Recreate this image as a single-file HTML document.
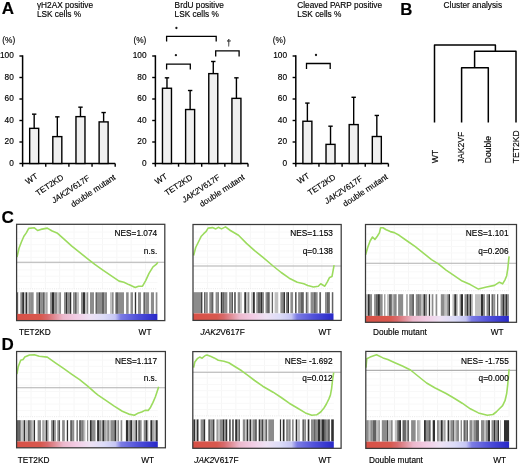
<!DOCTYPE html>
<html><head><meta charset="utf-8"><style>
html,body{margin:0;padding:0;background:#fff;}
body{width:520px;height:464px;overflow:hidden;font-family:"Liberation Sans", sans-serif;}
svg{display:block;filter:blur(0.35px);}
text{stroke:#000;stroke-width:0.14px;}
</style></head><body>
<svg width="520" height="464" viewBox="0 0 520 464" font-family='"Liberation Sans", sans-serif'>
<rect width="520" height="464" fill="#fff"/>
<text x="1.8" y="14.3" font-size="17" font-weight="bold" fill="#000">A</text>
<text transform="translate(36.90 7.90) scale(1 1.13)" font-size="8.3" fill="#000">&#947;H2AX positive</text>
<text transform="translate(36.90 16.90) scale(1 1.13)" font-size="8.3" fill="#000">LSK cells %</text>
<text transform="translate(2.30 42.90) scale(1 1.13)" font-size="8.3" fill="#000">(%)</text>
<line x1="22.6" y1="55.3" x2="22.6" y2="164.2" stroke="#000" stroke-width="1.5"/>
<line x1="19.400000000000002" y1="163.5" x2="22.6" y2="163.5" stroke="#000" stroke-width="1.4"/>
<text transform="translate(13.80 165.70) scale(1 1.13)" font-size="8.3" text-anchor="end" fill="#000">0</text>
<line x1="19.400000000000002" y1="142.0" x2="22.6" y2="142.0" stroke="#000" stroke-width="1.4"/>
<text transform="translate(13.80 144.20) scale(1 1.13)" font-size="8.3" text-anchor="end" fill="#000">20</text>
<line x1="19.400000000000002" y1="120.5" x2="22.6" y2="120.5" stroke="#000" stroke-width="1.4"/>
<text transform="translate(13.80 122.70) scale(1 1.13)" font-size="8.3" text-anchor="end" fill="#000">40</text>
<line x1="19.400000000000002" y1="99.0" x2="22.6" y2="99.0" stroke="#000" stroke-width="1.4"/>
<text transform="translate(13.80 101.20) scale(1 1.13)" font-size="8.3" text-anchor="end" fill="#000">60</text>
<line x1="19.400000000000002" y1="77.5" x2="22.6" y2="77.5" stroke="#000" stroke-width="1.4"/>
<text transform="translate(13.80 79.70) scale(1 1.13)" font-size="8.3" text-anchor="end" fill="#000">80</text>
<line x1="19.400000000000002" y1="56.0" x2="22.6" y2="56.0" stroke="#000" stroke-width="1.4"/>
<text transform="translate(13.80 58.20) scale(1 1.13)" font-size="8.3" text-anchor="end" fill="#000">100</text>
<line x1="21.900000000000002" y1="163.5" x2="115.19999999999999" y2="163.5" stroke="#000" stroke-width="1.5"/>
<line x1="22.6" y1="163.5" x2="22.6" y2="166.7" stroke="#000" stroke-width="1.4"/>
<line x1="45.75" y1="163.5" x2="45.75" y2="166.7" stroke="#000" stroke-width="1.4"/>
<line x1="68.9" y1="163.5" x2="68.9" y2="166.7" stroke="#000" stroke-width="1.4"/>
<line x1="92.04999999999998" y1="163.5" x2="92.04999999999998" y2="166.7" stroke="#000" stroke-width="1.4"/>
<line x1="115.19999999999999" y1="163.5" x2="115.19999999999999" y2="166.7" stroke="#000" stroke-width="1.4"/>
<line x1="34.175" y1="128.3475" x2="34.175" y2="114.1575" stroke="#000" stroke-width="1.4"/>
<line x1="31.974999999999998" y1="114.1575" x2="36.375" y2="114.1575" stroke="#000" stroke-width="1.4"/>
<rect x="29.67" y="128.35" width="9.00" height="35.15" fill="#f0f0f0" stroke="#000" stroke-width="1.4"/>
<line x1="57.324999999999996" y1="136.625" x2="57.324999999999996" y2="116.845" stroke="#000" stroke-width="1.4"/>
<line x1="55.12499999999999" y1="116.845" x2="59.525" y2="116.845" stroke="#000" stroke-width="1.4"/>
<rect x="52.82" y="136.62" width="9.00" height="26.88" fill="#f0f0f0" stroke="#000" stroke-width="1.4"/>
<line x1="80.475" y1="116.63" x2="80.475" y2="107.17" stroke="#000" stroke-width="1.4"/>
<line x1="78.27499999999999" y1="107.17" x2="82.675" y2="107.17" stroke="#000" stroke-width="1.4"/>
<rect x="75.97" y="116.63" width="9.00" height="46.87" fill="#f0f0f0" stroke="#000" stroke-width="1.4"/>
<line x1="103.625" y1="121.89750000000001" x2="103.625" y2="112.545" stroke="#000" stroke-width="1.4"/>
<line x1="101.425" y1="112.545" x2="105.825" y2="112.545" stroke="#000" stroke-width="1.4"/>
<rect x="99.12" y="121.90" width="9.00" height="41.60" fill="#f0f0f0" stroke="#000" stroke-width="1.4"/>
<text class="rl" x="38.40" y="177.60" font-size="8.2" text-anchor="end" fill="#000" transform="rotate(-33.5 38.40 177.60)">WT</text>
<text class="rl" x="64.10" y="178.80" font-size="8.2" text-anchor="end" fill="#000" transform="rotate(-33.5 64.10 178.80)">TET2KD</text>
<text class="rl" x="90.40" y="179.40" font-size="8.2" text-anchor="end" fill="#000" transform="rotate(-33.5 90.40 179.40)"><tspan font-style="italic">JAK2</tspan>V617F</text>
<text class="rl" x="116.20" y="178.80" font-size="8.2" text-anchor="end" fill="#000" transform="rotate(-33.5 116.20 178.80)">double mutant</text>
<text transform="translate(174.60 7.90) scale(1 1.13)" font-size="8.3" fill="#000">BrdU positive</text>
<text transform="translate(174.60 16.90) scale(1 1.13)" font-size="8.3" fill="#000">LSK cells %</text>
<text transform="translate(133.40 42.90) scale(1 1.13)" font-size="8.3" fill="#000">(%)</text>
<line x1="155.4" y1="55.3" x2="155.4" y2="164.2" stroke="#000" stroke-width="1.5"/>
<line x1="152.20000000000002" y1="163.5" x2="155.4" y2="163.5" stroke="#000" stroke-width="1.4"/>
<text transform="translate(146.60 165.70) scale(1 1.13)" font-size="8.3" text-anchor="end" fill="#000">0</text>
<line x1="152.20000000000002" y1="142.0" x2="155.4" y2="142.0" stroke="#000" stroke-width="1.4"/>
<text transform="translate(146.60 144.20) scale(1 1.13)" font-size="8.3" text-anchor="end" fill="#000">20</text>
<line x1="152.20000000000002" y1="120.5" x2="155.4" y2="120.5" stroke="#000" stroke-width="1.4"/>
<text transform="translate(146.60 122.70) scale(1 1.13)" font-size="8.3" text-anchor="end" fill="#000">40</text>
<line x1="152.20000000000002" y1="99.0" x2="155.4" y2="99.0" stroke="#000" stroke-width="1.4"/>
<text transform="translate(146.60 101.20) scale(1 1.13)" font-size="8.3" text-anchor="end" fill="#000">60</text>
<line x1="152.20000000000002" y1="77.5" x2="155.4" y2="77.5" stroke="#000" stroke-width="1.4"/>
<text transform="translate(146.60 79.70) scale(1 1.13)" font-size="8.3" text-anchor="end" fill="#000">80</text>
<line x1="152.20000000000002" y1="56.0" x2="155.4" y2="56.0" stroke="#000" stroke-width="1.4"/>
<text transform="translate(146.60 58.20) scale(1 1.13)" font-size="8.3" text-anchor="end" fill="#000">100</text>
<line x1="154.70000000000002" y1="163.5" x2="248.0" y2="163.5" stroke="#000" stroke-width="1.5"/>
<line x1="155.4" y1="163.5" x2="155.4" y2="166.7" stroke="#000" stroke-width="1.4"/>
<line x1="178.55" y1="163.5" x2="178.55" y2="166.7" stroke="#000" stroke-width="1.4"/>
<line x1="201.7" y1="163.5" x2="201.7" y2="166.7" stroke="#000" stroke-width="1.4"/>
<line x1="224.85" y1="163.5" x2="224.85" y2="166.7" stroke="#000" stroke-width="1.4"/>
<line x1="248.0" y1="163.5" x2="248.0" y2="166.7" stroke="#000" stroke-width="1.4"/>
<line x1="166.975" y1="88.25" x2="166.975" y2="77.8225" stroke="#000" stroke-width="1.4"/>
<line x1="164.775" y1="77.8225" x2="169.17499999999998" y2="77.8225" stroke="#000" stroke-width="1.4"/>
<rect x="162.47" y="88.25" width="9.00" height="75.25" fill="#f0f0f0" stroke="#000" stroke-width="1.4"/>
<line x1="190.125" y1="109.535" x2="190.125" y2="90.5075" stroke="#000" stroke-width="1.4"/>
<line x1="187.925" y1="90.5075" x2="192.325" y2="90.5075" stroke="#000" stroke-width="1.4"/>
<rect x="185.62" y="109.53" width="9.00" height="53.97" fill="#f0f0f0" stroke="#000" stroke-width="1.4"/>
<line x1="213.275" y1="73.63000000000001" x2="213.275" y2="61.4825" stroke="#000" stroke-width="1.4"/>
<line x1="211.07500000000002" y1="61.4825" x2="215.475" y2="61.4825" stroke="#000" stroke-width="1.4"/>
<rect x="208.78" y="73.63" width="9.00" height="89.87" fill="#f0f0f0" stroke="#000" stroke-width="1.4"/>
<line x1="236.425" y1="98.355" x2="236.425" y2="77.8225" stroke="#000" stroke-width="1.4"/>
<line x1="234.22500000000002" y1="77.8225" x2="238.625" y2="77.8225" stroke="#000" stroke-width="1.4"/>
<rect x="231.93" y="98.36" width="9.00" height="65.14" fill="#f0f0f0" stroke="#000" stroke-width="1.4"/>
<text class="rl" x="168.00" y="177.70" font-size="8.2" text-anchor="end" fill="#000" transform="rotate(-33.5 168.00 177.70)">WT</text>
<text class="rl" x="193.10" y="178.70" font-size="8.2" text-anchor="end" fill="#000" transform="rotate(-33.5 193.10 178.70)">TET2KD</text>
<text class="rl" x="220.80" y="178.80" font-size="8.2" text-anchor="end" fill="#000" transform="rotate(-33.5 220.80 178.80)"><tspan font-style="italic">JAK2</tspan>V617F</text>
<text class="rl" x="245.10" y="178.60" font-size="8.2" text-anchor="end" fill="#000" transform="rotate(-33.5 245.10 178.60)">double mutant</text>
<text transform="translate(297.20 7.90) scale(1 1.13)" font-size="8.3" fill="#000">Cleaved PARP positive</text>
<text transform="translate(297.20 16.90) scale(1 1.13)" font-size="8.3" fill="#000">LSK cells %</text>
<text transform="translate(272.80 42.90) scale(1 1.13)" font-size="8.3" fill="#000">(%)</text>
<line x1="295.8" y1="55.3" x2="295.8" y2="164.2" stroke="#000" stroke-width="1.5"/>
<line x1="292.6" y1="163.5" x2="295.8" y2="163.5" stroke="#000" stroke-width="1.4"/>
<text transform="translate(287.00 165.70) scale(1 1.13)" font-size="8.3" text-anchor="end" fill="#000">0</text>
<line x1="292.6" y1="142.0" x2="295.8" y2="142.0" stroke="#000" stroke-width="1.4"/>
<text transform="translate(287.00 144.20) scale(1 1.13)" font-size="8.3" text-anchor="end" fill="#000">20</text>
<line x1="292.6" y1="120.5" x2="295.8" y2="120.5" stroke="#000" stroke-width="1.4"/>
<text transform="translate(287.00 122.70) scale(1 1.13)" font-size="8.3" text-anchor="end" fill="#000">40</text>
<line x1="292.6" y1="99.0" x2="295.8" y2="99.0" stroke="#000" stroke-width="1.4"/>
<text transform="translate(287.00 101.20) scale(1 1.13)" font-size="8.3" text-anchor="end" fill="#000">60</text>
<line x1="292.6" y1="77.5" x2="295.8" y2="77.5" stroke="#000" stroke-width="1.4"/>
<text transform="translate(287.00 79.70) scale(1 1.13)" font-size="8.3" text-anchor="end" fill="#000">80</text>
<line x1="292.6" y1="56.0" x2="295.8" y2="56.0" stroke="#000" stroke-width="1.4"/>
<text transform="translate(287.00 58.20) scale(1 1.13)" font-size="8.3" text-anchor="end" fill="#000">100</text>
<line x1="295.1" y1="163.5" x2="388.4" y2="163.5" stroke="#000" stroke-width="1.5"/>
<line x1="295.8" y1="163.5" x2="295.8" y2="166.7" stroke="#000" stroke-width="1.4"/>
<line x1="318.95" y1="163.5" x2="318.95" y2="166.7" stroke="#000" stroke-width="1.4"/>
<line x1="342.1" y1="163.5" x2="342.1" y2="166.7" stroke="#000" stroke-width="1.4"/>
<line x1="365.25" y1="163.5" x2="365.25" y2="166.7" stroke="#000" stroke-width="1.4"/>
<line x1="388.4" y1="163.5" x2="388.4" y2="166.7" stroke="#000" stroke-width="1.4"/>
<line x1="307.375" y1="121.2525" x2="307.375" y2="103.08500000000001" stroke="#000" stroke-width="1.4"/>
<line x1="305.175" y1="103.08500000000001" x2="309.575" y2="103.08500000000001" stroke="#000" stroke-width="1.4"/>
<rect x="302.88" y="121.25" width="9.00" height="42.25" fill="#f0f0f0" stroke="#000" stroke-width="1.4"/>
<line x1="330.525" y1="144.365" x2="330.525" y2="126.19749999999999" stroke="#000" stroke-width="1.4"/>
<line x1="328.325" y1="126.19749999999999" x2="332.72499999999997" y2="126.19749999999999" stroke="#000" stroke-width="1.4"/>
<rect x="326.02" y="144.37" width="9.00" height="19.13" fill="#f0f0f0" stroke="#000" stroke-width="1.4"/>
<line x1="353.675" y1="124.58500000000001" x2="353.675" y2="97.28" stroke="#000" stroke-width="1.4"/>
<line x1="351.475" y1="97.28" x2="355.875" y2="97.28" stroke="#000" stroke-width="1.4"/>
<rect x="349.18" y="124.59" width="9.00" height="38.91" fill="#f0f0f0" stroke="#000" stroke-width="1.4"/>
<line x1="376.825" y1="136.51749999999998" x2="376.825" y2="115.44749999999999" stroke="#000" stroke-width="1.4"/>
<line x1="374.625" y1="115.44749999999999" x2="379.025" y2="115.44749999999999" stroke="#000" stroke-width="1.4"/>
<rect x="372.32" y="136.52" width="9.00" height="26.98" fill="#f0f0f0" stroke="#000" stroke-width="1.4"/>
<text class="rl" x="310.10" y="177.30" font-size="8.2" text-anchor="end" fill="#000" transform="rotate(-33.5 310.10 177.30)">WT</text>
<text class="rl" x="336.20" y="178.50" font-size="8.2" text-anchor="end" fill="#000" transform="rotate(-33.5 336.20 178.50)">TET2KD</text>
<text class="rl" x="363.30" y="180.10" font-size="8.2" text-anchor="end" fill="#000" transform="rotate(-33.5 363.30 180.10)"><tspan font-style="italic">JAK2</tspan>V617F</text>
<text class="rl" x="388.40" y="178.30" font-size="8.2" text-anchor="end" fill="#000" transform="rotate(-33.5 388.40 178.30)">double mutant</text>
<path d="M166.6 41.6 V36.4 H216.2 V41.6" fill="none" stroke="#000" stroke-width="1.3"/>
<circle cx="176.4" cy="28.0" r="1.15" fill="#1a1a1a"/>
<path d="M166.6 69.4 V64.2 H190.3 V69.4" fill="none" stroke="#000" stroke-width="1.3"/>
<circle cx="175.9" cy="55.2" r="1.15" fill="#1a1a1a"/>
<path d="M215.7 56.5 V50.8 H239.1 V56.5" fill="none" stroke="#000" stroke-width="1.3"/>
<text transform="translate(228.90 46.00) scale(1 1.13)" font-size="8.3" text-anchor="middle" fill="#000">&#8224;</text>
<path d="M306.5 68.9 V63.5 H330.2 V68.9" fill="none" stroke="#000" stroke-width="1.3"/>
<circle cx="316" cy="55.0" r="1.15" fill="#1a1a1a"/>
<text x="400.3" y="14.5" font-size="16.8" font-weight="bold" fill="#000">B</text>
<text transform="translate(443.60 7.60) scale(1 1.13)" font-size="8.3" fill="#000">Cluster analysis</text>
<path d="M434.5 122.6 V45 H495.4 V51.3 M474.6 67.7 V51.3 H516 V122.6 M461.6 122.6 V67.7 H488.3 V122.6" fill="none" stroke="#000" stroke-width="1.5" stroke-linejoin="round"/>
<text transform="translate(437.80 163.2) rotate(-90) scale(1 1.08)" font-size="8.6" fill="#000">WT</text>
<text transform="translate(464.40 163.2) rotate(-90) scale(1 1.08)" font-size="8.6" fill="#000">JAK2VF</text>
<text transform="translate(491.10 163.2) rotate(-90) scale(1 1.08)" font-size="8.6" fill="#000">Double</text>
<text transform="translate(518.70 163.2) rotate(-90) scale(1 1.08)" font-size="8.6" fill="#000">TET2KD</text>
<text x="1.6" y="222.9" font-size="17.2" font-weight="bold" fill="#000">C</text>
<text x="1.4" y="349.9" font-size="17" font-weight="bold" fill="#000">D</text>
<defs><linearGradient id="g1" x1="0" x2="1" y1="0" y2="0"><stop offset="0" stop-color="#d85046"/><stop offset="0.17" stop-color="#d8584e"/><stop offset="0.22" stop-color="#d86a6c"/><stop offset="0.28" stop-color="#e2949e"/><stop offset="0.33" stop-color="#ecb8cc"/><stop offset="0.42" stop-color="#f2cce4"/><stop offset="0.52" stop-color="#eee2f4"/><stop offset="0.62" stop-color="#dcdcf8"/><stop offset="0.70" stop-color="#c6c6f4"/><stop offset="0.74" stop-color="#7c7ce4"/><stop offset="0.86" stop-color="#5050da"/><stop offset="1" stop-color="#2828c8"/></linearGradient></defs>
<line x1="31.1" y1="224.3" x2="31.1" y2="288.8" stroke="#f6f6f6" stroke-width="1"/>
<line x1="45.4" y1="224.3" x2="45.4" y2="288.8" stroke="#f6f6f6" stroke-width="1"/>
<line x1="59.7" y1="224.3" x2="59.7" y2="288.8" stroke="#f6f6f6" stroke-width="1"/>
<line x1="74.0" y1="224.3" x2="74.0" y2="288.8" stroke="#f6f6f6" stroke-width="1"/>
<line x1="88.3" y1="224.3" x2="88.3" y2="288.8" stroke="#f6f6f6" stroke-width="1"/>
<line x1="102.6" y1="224.3" x2="102.6" y2="288.8" stroke="#f6f6f6" stroke-width="1"/>
<line x1="116.9" y1="224.3" x2="116.9" y2="288.8" stroke="#f6f6f6" stroke-width="1"/>
<line x1="131.2" y1="224.3" x2="131.2" y2="288.8" stroke="#f6f6f6" stroke-width="1"/>
<line x1="145.5" y1="224.3" x2="145.5" y2="288.8" stroke="#f6f6f6" stroke-width="1"/>
<line x1="16.6" y1="282.5" x2="157.4" y2="282.5" stroke="#f8f8f8" stroke-width="1"/>
<line x1="16.6" y1="276.2" x2="157.4" y2="276.2" stroke="#f8f8f8" stroke-width="1"/>
<line x1="16.6" y1="269.9" x2="157.4" y2="269.9" stroke="#f8f8f8" stroke-width="1"/>
<line x1="16.6" y1="263.6" x2="157.4" y2="263.6" stroke="#f8f8f8" stroke-width="1"/>
<line x1="16.6" y1="257.3" x2="157.4" y2="257.3" stroke="#f8f8f8" stroke-width="1"/>
<line x1="16.6" y1="251.0" x2="157.4" y2="251.0" stroke="#f8f8f8" stroke-width="1"/>
<line x1="16.6" y1="244.7" x2="157.4" y2="244.7" stroke="#f8f8f8" stroke-width="1"/>
<line x1="16.6" y1="238.4" x2="157.4" y2="238.4" stroke="#f8f8f8" stroke-width="1"/>
<line x1="16.6" y1="232.1" x2="157.4" y2="232.1" stroke="#f8f8f8" stroke-width="1"/>
<line x1="16.6" y1="288.8" x2="157.4" y2="288.8" stroke="#e2e2e2" stroke-width="0.8" stroke-dasharray="1 1.2"/>
<line x1="16.6" y1="262.3" x2="164.8" y2="262.3" stroke="#b0b0b0" stroke-width="1.1"/>
<rect x="16.6" y="292.3" width="140.8" height="21.599999999999966" fill="#fff"/>
<rect x="17.00" y="292.3" width="1.40" height="21.599999999999966" fill="rgb(98,98,98)"/>
<rect x="18.40" y="292.3" width="1.90" height="21.599999999999966" fill="rgb(255,255,255)"/>
<rect x="20.30" y="292.3" width="1.90" height="21.599999999999966" fill="rgb(140,140,140)"/>
<rect x="22.20" y="292.3" width="1.90" height="21.599999999999966" fill="rgb(48,48,48)"/>
<rect x="24.10" y="292.3" width="1.50" height="21.599999999999966" fill="rgb(192,192,192)"/>
<rect x="25.60" y="292.3" width="1.40" height="21.599999999999966" fill="rgb(48,48,48)"/>
<rect x="27.00" y="292.3" width="2.00" height="21.599999999999966" fill="rgb(192,192,192)"/>
<rect x="29.00" y="292.3" width="1.90" height="21.599999999999966" fill="rgb(140,140,140)"/>
<rect x="30.90" y="292.3" width="2.90" height="21.599999999999966" fill="rgb(140,140,140)"/>
<rect x="33.80" y="292.3" width="2.40" height="21.599999999999966" fill="rgb(255,255,255)"/>
<rect x="36.20" y="292.3" width="2.80" height="21.599999999999966" fill="rgb(140,140,140)"/>
<rect x="39.00" y="292.3" width="1.50" height="21.599999999999966" fill="rgb(48,48,48)"/>
<rect x="40.50" y="292.3" width="2.40" height="21.599999999999966" fill="rgb(140,140,140)"/>
<rect x="42.90" y="292.3" width="1.90" height="21.599999999999966" fill="rgb(98,98,98)"/>
<rect x="44.80" y="292.3" width="1.50" height="21.599999999999966" fill="rgb(192,192,192)"/>
<rect x="46.30" y="292.3" width="1.40" height="21.599999999999966" fill="rgb(140,140,140)"/>
<rect x="47.70" y="292.3" width="2.40" height="21.599999999999966" fill="rgb(255,255,255)"/>
<rect x="50.10" y="292.3" width="1.90" height="21.599999999999966" fill="rgb(140,140,140)"/>
<rect x="52.00" y="292.3" width="2.40" height="21.599999999999966" fill="rgb(48,48,48)"/>
<rect x="54.40" y="292.3" width="2.90" height="21.599999999999966" fill="rgb(140,140,140)"/>
<rect x="57.30" y="292.3" width="1.90" height="21.599999999999966" fill="rgb(192,192,192)"/>
<rect x="59.20" y="292.3" width="2.00" height="21.599999999999966" fill="rgb(140,140,140)"/>
<rect x="61.20" y="292.3" width="2.80" height="21.599999999999966" fill="rgb(255,255,255)"/>
<rect x="64.00" y="292.3" width="2.00" height="21.599999999999966" fill="rgb(140,140,140)"/>
<rect x="66.00" y="292.3" width="1.50" height="21.599999999999966" fill="rgb(48,48,48)"/>
<rect x="67.50" y="292.3" width="2.50" height="21.599999999999966" fill="rgb(140,140,140)"/>
<rect x="70.00" y="292.3" width="1.50" height="21.599999999999966" fill="rgb(48,48,48)"/>
<rect x="71.50" y="292.3" width="1.50" height="21.599999999999966" fill="rgb(255,255,255)"/>
<rect x="73.00" y="292.3" width="1.50" height="21.599999999999966" fill="rgb(140,140,140)"/>
<rect x="74.50" y="292.3" width="1.50" height="21.599999999999966" fill="rgb(98,98,98)"/>
<rect x="76.00" y="292.3" width="1.50" height="21.599999999999966" fill="rgb(140,140,140)"/>
<rect x="77.50" y="292.3" width="1.50" height="21.599999999999966" fill="rgb(192,192,192)"/>
<rect x="79.00" y="292.3" width="2.00" height="21.599999999999966" fill="rgb(255,255,255)"/>
<rect x="81.00" y="292.3" width="2.00" height="21.599999999999966" fill="rgb(140,140,140)"/>
<rect x="83.00" y="292.3" width="2.00" height="21.599999999999966" fill="rgb(48,48,48)"/>
<rect x="85.00" y="292.3" width="2.00" height="21.599999999999966" fill="rgb(192,192,192)"/>
<rect x="87.00" y="292.3" width="1.50" height="21.599999999999966" fill="rgb(140,140,140)"/>
<rect x="88.50" y="292.3" width="1.50" height="21.599999999999966" fill="rgb(255,255,255)"/>
<rect x="90.00" y="292.3" width="4.00" height="21.599999999999966" fill="rgb(140,140,140)"/>
<rect x="94.00" y="292.3" width="1.50" height="21.599999999999966" fill="rgb(255,255,255)"/>
<rect x="95.50" y="292.3" width="1.50" height="21.599999999999966" fill="rgb(98,98,98)"/>
<rect x="97.00" y="292.3" width="5.00" height="21.599999999999966" fill="rgb(140,140,140)"/>
<rect x="102.00" y="292.3" width="2.50" height="21.599999999999966" fill="rgb(98,98,98)"/>
<rect x="104.50" y="292.3" width="2.50" height="21.599999999999966" fill="rgb(140,140,140)"/>
<rect x="107.00" y="292.3" width="3.00" height="21.599999999999966" fill="rgb(255,255,255)"/>
<rect x="110.00" y="292.3" width="2.00" height="21.599999999999966" fill="rgb(192,192,192)"/>
<rect x="112.00" y="292.3" width="1.80" height="21.599999999999966" fill="rgb(140,140,140)"/>
<rect x="113.80" y="292.3" width="1.60" height="21.599999999999966" fill="rgb(255,255,255)"/>
<rect x="115.40" y="292.3" width="2.60" height="21.599999999999966" fill="rgb(98,98,98)"/>
<rect x="118.00" y="292.3" width="6.00" height="21.599999999999966" fill="rgb(140,140,140)"/>
<rect x="124.00" y="292.3" width="2.10" height="21.599999999999966" fill="rgb(255,255,255)"/>
<rect x="126.10" y="292.3" width="2.70" height="21.599999999999966" fill="rgb(140,140,140)"/>
<rect x="128.80" y="292.3" width="1.70" height="21.599999999999966" fill="rgb(255,255,255)"/>
<rect x="130.50" y="292.3" width="2.60" height="21.599999999999966" fill="rgb(140,140,140)"/>
<rect x="133.10" y="292.3" width="1.70" height="21.599999999999966" fill="rgb(255,255,255)"/>
<rect x="134.80" y="292.3" width="1.60" height="21.599999999999966" fill="rgb(48,48,48)"/>
<rect x="136.40" y="292.3" width="1.60" height="21.599999999999966" fill="rgb(255,255,255)"/>
<rect x="138.00" y="292.3" width="3.20" height="21.599999999999966" fill="rgb(140,140,140)"/>
<rect x="141.20" y="292.3" width="2.20" height="21.599999999999966" fill="rgb(255,255,255)"/>
<rect x="143.40" y="292.3" width="2.10" height="21.599999999999966" fill="rgb(98,98,98)"/>
<rect x="145.50" y="292.3" width="3.80" height="21.599999999999966" fill="rgb(140,140,140)"/>
<rect x="149.30" y="292.3" width="1.60" height="21.599999999999966" fill="rgb(255,255,255)"/>
<rect x="150.90" y="292.3" width="3.20" height="21.599999999999966" fill="rgb(140,140,140)"/>
<rect x="154.10" y="292.3" width="1.60" height="21.599999999999966" fill="rgb(255,255,255)"/>
<rect x="155.70" y="292.3" width="1.70" height="21.599999999999966" fill="rgb(140,140,140)"/>
<rect x="16.6" y="313.9" width="140.8" height="6.7000000000000455" fill="url(#g1)"/>
<polyline points="17.0,257.0 19.0,248.3 21.5,241.8 23.9,236.2 26.3,232.9 28.7,228.4 34.4,227.8 37.6,230.5 40.8,229.4 47.3,228.1 52.2,231.0 57.0,232.9 63.5,238.6 71.5,245.8 79.6,252.3 87.7,258.8 94.8,264.4 102.9,270.1 111.0,275.7 119.1,281.1 123.9,282.2 128.8,284.6 135.2,287.5 138.5,286.2 142.5,286.2 145.7,280.6 149.0,273.3 153.0,266.8 156.2,264.4 157.9,262.3" fill="none" stroke="#9cdb5e" stroke-width="1.6" stroke-linejoin="round"/>
<rect x="16.6" y="224.3" width="148.20000000000002" height="96.30000000000001" fill="none" stroke="#3a3a3a" stroke-width="1.25"/>
<text transform="translate(157.20 235.80) scale(1 1.13)" font-size="8.3" text-anchor="end" fill="#000">NES=1.074</text>
<text transform="translate(157.20 253.90) scale(1 1.13)" font-size="8.3" text-anchor="end" fill="#000">n.s.</text>
<text transform="translate(19.00 334.50) scale(1 1.13)" font-size="8.3" fill="#000">TET2KD</text>
<text transform="translate(138.60 334.50) scale(1 1.13)" font-size="8.3" fill="#000">WT</text>
<defs><linearGradient id="g2" x1="0" x2="1" y1="0" y2="0"><stop offset="0" stop-color="#d85046"/><stop offset="0.17" stop-color="#d8584e"/><stop offset="0.22" stop-color="#d86a6c"/><stop offset="0.28" stop-color="#e2949e"/><stop offset="0.33" stop-color="#ecb8cc"/><stop offset="0.42" stop-color="#f2cce4"/><stop offset="0.52" stop-color="#eee2f4"/><stop offset="0.62" stop-color="#dcdcf8"/><stop offset="0.70" stop-color="#c6c6f4"/><stop offset="0.74" stop-color="#7c7ce4"/><stop offset="0.86" stop-color="#5050da"/><stop offset="1" stop-color="#2828c8"/></linearGradient></defs>
<line x1="207.5" y1="224.5" x2="207.5" y2="288.7" stroke="#f6f6f6" stroke-width="1"/>
<line x1="221.8" y1="224.5" x2="221.8" y2="288.7" stroke="#f6f6f6" stroke-width="1"/>
<line x1="236.1" y1="224.5" x2="236.1" y2="288.7" stroke="#f6f6f6" stroke-width="1"/>
<line x1="250.4" y1="224.5" x2="250.4" y2="288.7" stroke="#f6f6f6" stroke-width="1"/>
<line x1="264.7" y1="224.5" x2="264.7" y2="288.7" stroke="#f6f6f6" stroke-width="1"/>
<line x1="279.0" y1="224.5" x2="279.0" y2="288.7" stroke="#f6f6f6" stroke-width="1"/>
<line x1="293.3" y1="224.5" x2="293.3" y2="288.7" stroke="#f6f6f6" stroke-width="1"/>
<line x1="307.6" y1="224.5" x2="307.6" y2="288.7" stroke="#f6f6f6" stroke-width="1"/>
<line x1="321.9" y1="224.5" x2="321.9" y2="288.7" stroke="#f6f6f6" stroke-width="1"/>
<line x1="193.0" y1="282.4" x2="333.5" y2="282.4" stroke="#f8f8f8" stroke-width="1"/>
<line x1="193.0" y1="276.1" x2="333.5" y2="276.1" stroke="#f8f8f8" stroke-width="1"/>
<line x1="193.0" y1="269.8" x2="333.5" y2="269.8" stroke="#f8f8f8" stroke-width="1"/>
<line x1="193.0" y1="263.5" x2="333.5" y2="263.5" stroke="#f8f8f8" stroke-width="1"/>
<line x1="193.0" y1="257.2" x2="333.5" y2="257.2" stroke="#f8f8f8" stroke-width="1"/>
<line x1="193.0" y1="250.9" x2="333.5" y2="250.9" stroke="#f8f8f8" stroke-width="1"/>
<line x1="193.0" y1="244.6" x2="333.5" y2="244.6" stroke="#f8f8f8" stroke-width="1"/>
<line x1="193.0" y1="238.3" x2="333.5" y2="238.3" stroke="#f8f8f8" stroke-width="1"/>
<line x1="193.0" y1="232.0" x2="333.5" y2="232.0" stroke="#f8f8f8" stroke-width="1"/>
<line x1="193.0" y1="288.7" x2="333.5" y2="288.7" stroke="#e2e2e2" stroke-width="0.8" stroke-dasharray="1 1.2"/>
<line x1="193.0" y1="266.0" x2="341.2" y2="266.0" stroke="#b0b0b0" stroke-width="1.1"/>
<rect x="193.0" y="292.2" width="140.5" height="21.19999999999999" fill="#fff"/>
<rect x="193.60" y="292.2" width="3.40" height="21.19999999999999" fill="rgb(140,140,140)"/>
<rect x="197.00" y="292.2" width="4.10" height="21.19999999999999" fill="rgb(140,140,140)"/>
<rect x="201.10" y="292.2" width="1.50" height="21.19999999999999" fill="rgb(48,48,48)"/>
<rect x="202.60" y="292.2" width="1.40" height="21.19999999999999" fill="rgb(255,255,255)"/>
<rect x="204.00" y="292.2" width="1.50" height="21.19999999999999" fill="rgb(98,98,98)"/>
<rect x="205.50" y="292.2" width="2.40" height="21.19999999999999" fill="rgb(140,140,140)"/>
<rect x="207.90" y="292.2" width="1.40" height="21.19999999999999" fill="rgb(255,255,255)"/>
<rect x="209.30" y="292.2" width="1.90" height="21.19999999999999" fill="rgb(140,140,140)"/>
<rect x="211.20" y="292.2" width="2.40" height="21.19999999999999" fill="rgb(98,98,98)"/>
<rect x="213.60" y="292.2" width="2.00" height="21.19999999999999" fill="rgb(255,255,255)"/>
<rect x="215.60" y="292.2" width="1.90" height="21.19999999999999" fill="rgb(140,140,140)"/>
<rect x="217.50" y="292.2" width="1.40" height="21.19999999999999" fill="rgb(98,98,98)"/>
<rect x="218.90" y="292.2" width="1.90" height="21.19999999999999" fill="rgb(255,255,255)"/>
<rect x="220.80" y="292.2" width="1.50" height="21.19999999999999" fill="rgb(48,48,48)"/>
<rect x="222.30" y="292.2" width="2.40" height="21.19999999999999" fill="rgb(98,98,98)"/>
<rect x="224.70" y="292.2" width="2.90" height="21.19999999999999" fill="rgb(140,140,140)"/>
<rect x="227.60" y="292.2" width="1.40" height="21.19999999999999" fill="rgb(255,255,255)"/>
<rect x="229.00" y="292.2" width="2.90" height="21.19999999999999" fill="rgb(140,140,140)"/>
<rect x="231.90" y="292.2" width="1.00" height="21.19999999999999" fill="rgb(48,48,48)"/>
<rect x="232.90" y="292.2" width="1.40" height="21.19999999999999" fill="rgb(255,255,255)"/>
<rect x="234.30" y="292.2" width="1.50" height="21.19999999999999" fill="rgb(48,48,48)"/>
<rect x="235.80" y="292.2" width="1.90" height="21.19999999999999" fill="rgb(255,255,255)"/>
<rect x="237.70" y="292.2" width="2.40" height="21.19999999999999" fill="rgb(140,140,140)"/>
<rect x="240.10" y="292.2" width="1.80" height="21.19999999999999" fill="rgb(192,192,192)"/>
<rect x="241.90" y="292.2" width="2.40" height="21.19999999999999" fill="rgb(255,255,255)"/>
<rect x="244.30" y="292.2" width="2.00" height="21.19999999999999" fill="rgb(48,48,48)"/>
<rect x="246.30" y="292.2" width="1.40" height="21.19999999999999" fill="rgb(192,192,192)"/>
<rect x="247.70" y="292.2" width="1.90" height="21.19999999999999" fill="rgb(140,140,140)"/>
<rect x="249.60" y="292.2" width="1.50" height="21.19999999999999" fill="rgb(255,255,255)"/>
<rect x="251.10" y="292.2" width="1.90" height="21.19999999999999" fill="rgb(192,192,192)"/>
<rect x="253.00" y="292.2" width="1.90" height="21.19999999999999" fill="rgb(48,48,48)"/>
<rect x="254.90" y="292.2" width="1.40" height="21.19999999999999" fill="rgb(255,255,255)"/>
<rect x="256.30" y="292.2" width="1.50" height="21.19999999999999" fill="rgb(140,140,140)"/>
<rect x="257.80" y="292.2" width="2.90" height="21.19999999999999" fill="rgb(98,98,98)"/>
<rect x="260.70" y="292.2" width="1.90" height="21.19999999999999" fill="rgb(48,48,48)"/>
<rect x="262.60" y="292.2" width="1.40" height="21.19999999999999" fill="rgb(140,140,140)"/>
<rect x="264.00" y="292.2" width="1.50" height="21.19999999999999" fill="rgb(255,255,255)"/>
<rect x="265.50" y="292.2" width="1.90" height="21.19999999999999" fill="rgb(140,140,140)"/>
<rect x="267.40" y="292.2" width="1.40" height="21.19999999999999" fill="rgb(48,48,48)"/>
<rect x="268.80" y="292.2" width="1.50" height="21.19999999999999" fill="rgb(140,140,140)"/>
<rect x="270.30" y="292.2" width="1.40" height="21.19999999999999" fill="rgb(255,255,255)"/>
<rect x="271.70" y="292.2" width="1.50" height="21.19999999999999" fill="rgb(98,98,98)"/>
<rect x="273.20" y="292.2" width="1.40" height="21.19999999999999" fill="rgb(255,255,255)"/>
<rect x="274.60" y="292.2" width="3.90" height="21.19999999999999" fill="rgb(192,192,192)"/>
<rect x="278.50" y="292.2" width="1.90" height="21.19999999999999" fill="rgb(255,255,255)"/>
<rect x="280.40" y="292.2" width="1.90" height="21.19999999999999" fill="rgb(140,140,140)"/>
<rect x="282.30" y="292.2" width="1.50" height="21.19999999999999" fill="rgb(98,98,98)"/>
<rect x="283.80" y="292.2" width="1.40" height="21.19999999999999" fill="rgb(48,48,48)"/>
<rect x="285.20" y="292.2" width="1.00" height="21.19999999999999" fill="rgb(255,255,255)"/>
<rect x="286.20" y="292.2" width="1.40" height="21.19999999999999" fill="rgb(98,98,98)"/>
<rect x="287.60" y="292.2" width="1.40" height="21.19999999999999" fill="rgb(48,48,48)"/>
<rect x="289.00" y="292.2" width="1.40" height="21.19999999999999" fill="rgb(255,255,255)"/>
<rect x="290.40" y="292.2" width="2.90" height="21.19999999999999" fill="rgb(140,140,140)"/>
<rect x="293.30" y="292.2" width="1.90" height="21.19999999999999" fill="rgb(255,255,255)"/>
<rect x="295.20" y="292.2" width="1.50" height="21.19999999999999" fill="rgb(48,48,48)"/>
<rect x="296.70" y="292.2" width="1.40" height="21.19999999999999" fill="rgb(255,255,255)"/>
<rect x="298.10" y="292.2" width="2.90" height="21.19999999999999" fill="rgb(140,140,140)"/>
<rect x="301.00" y="292.2" width="2.90" height="21.19999999999999" fill="rgb(98,98,98)"/>
<rect x="303.90" y="292.2" width="1.90" height="21.19999999999999" fill="rgb(255,255,255)"/>
<rect x="305.80" y="292.2" width="1.40" height="21.19999999999999" fill="rgb(98,98,98)"/>
<rect x="307.20" y="292.2" width="1.50" height="21.19999999999999" fill="rgb(140,140,140)"/>
<rect x="308.70" y="292.2" width="1.90" height="21.19999999999999" fill="rgb(255,255,255)"/>
<rect x="310.60" y="292.2" width="2.90" height="21.19999999999999" fill="rgb(140,140,140)"/>
<rect x="313.50" y="292.2" width="2.40" height="21.19999999999999" fill="rgb(98,98,98)"/>
<rect x="315.90" y="292.2" width="1.90" height="21.19999999999999" fill="rgb(140,140,140)"/>
<rect x="317.80" y="292.2" width="1.50" height="21.19999999999999" fill="rgb(255,255,255)"/>
<rect x="319.30" y="292.2" width="1.90" height="21.19999999999999" fill="rgb(98,98,98)"/>
<rect x="321.20" y="292.2" width="3.80" height="21.19999999999999" fill="rgb(255,255,255)"/>
<rect x="325.00" y="292.2" width="1.50" height="21.19999999999999" fill="rgb(140,140,140)"/>
<rect x="326.50" y="292.2" width="1.90" height="21.19999999999999" fill="rgb(98,98,98)"/>
<rect x="328.40" y="292.2" width="1.40" height="21.19999999999999" fill="rgb(48,48,48)"/>
<rect x="329.80" y="292.2" width="2.00" height="21.19999999999999" fill="rgb(255,255,255)"/>
<rect x="331.80" y="292.2" width="1.50" height="21.19999999999999" fill="rgb(98,98,98)"/>
<rect x="193.0" y="313.4" width="140.5" height="7.0" fill="url(#g2)"/>
<polyline points="193.6,255.5 195.7,247.5 198.9,241.0 201.3,236.2 203.7,233.7 206.2,231.3 208.1,228.1 212.6,227.6 215.8,228.9 218.3,227.3 221.5,228.9 225.5,226.9 230.4,230.5 238.5,235.3 246.5,243.4 254.6,250.7 262.7,257.2 273.1,266.0 281.2,272.5 289.2,278.2 297.3,282.2 303.8,283.8 307.8,285.4 313.5,287.0 318.3,286.2 320.7,283.8 324.8,286.2 327.2,282.2 329.6,277.4 332.0,276.5 332.9,271.7 334.1,265.2" fill="none" stroke="#9cdb5e" stroke-width="1.6" stroke-linejoin="round"/>
<rect x="193.0" y="224.5" width="148.2" height="95.89999999999998" fill="none" stroke="#3a3a3a" stroke-width="1.25"/>
<text transform="translate(332.90 235.70) scale(1 1.13)" font-size="8.3" text-anchor="end" fill="#000">NES=1.153</text>
<text transform="translate(332.90 253.90) scale(1 1.13)" font-size="8.3" text-anchor="end" fill="#000">q=0.138</text>
<text transform="translate(200.50 334.50) scale(1 1.13)" font-size="8.3" fill="#000"><tspan font-style="italic">JAK2</tspan>V617F</text>
<text transform="translate(318.50 334.50) scale(1 1.13)" font-size="8.3" fill="#000">WT</text>
<defs><linearGradient id="g3" x1="0" x2="1" y1="0" y2="0"><stop offset="0" stop-color="#d85046"/><stop offset="0.17" stop-color="#d8584e"/><stop offset="0.22" stop-color="#d86a6c"/><stop offset="0.28" stop-color="#e2949e"/><stop offset="0.33" stop-color="#ecb8cc"/><stop offset="0.42" stop-color="#f2cce4"/><stop offset="0.52" stop-color="#eee2f4"/><stop offset="0.62" stop-color="#dcdcf8"/><stop offset="0.70" stop-color="#c6c6f4"/><stop offset="0.74" stop-color="#7c7ce4"/><stop offset="0.86" stop-color="#5050da"/><stop offset="1" stop-color="#2828c8"/></linearGradient></defs>
<line x1="380.0" y1="224.5" x2="380.0" y2="290.7" stroke="#f6f6f6" stroke-width="1"/>
<line x1="394.3" y1="224.5" x2="394.3" y2="290.7" stroke="#f6f6f6" stroke-width="1"/>
<line x1="408.6" y1="224.5" x2="408.6" y2="290.7" stroke="#f6f6f6" stroke-width="1"/>
<line x1="422.9" y1="224.5" x2="422.9" y2="290.7" stroke="#f6f6f6" stroke-width="1"/>
<line x1="437.2" y1="224.5" x2="437.2" y2="290.7" stroke="#f6f6f6" stroke-width="1"/>
<line x1="451.5" y1="224.5" x2="451.5" y2="290.7" stroke="#f6f6f6" stroke-width="1"/>
<line x1="465.8" y1="224.5" x2="465.8" y2="290.7" stroke="#f6f6f6" stroke-width="1"/>
<line x1="480.1" y1="224.5" x2="480.1" y2="290.7" stroke="#f6f6f6" stroke-width="1"/>
<line x1="494.4" y1="224.5" x2="494.4" y2="290.7" stroke="#f6f6f6" stroke-width="1"/>
<line x1="508.7" y1="224.5" x2="508.7" y2="290.7" stroke="#f6f6f6" stroke-width="1"/>
<line x1="365.5" y1="284.4" x2="508.9" y2="284.4" stroke="#f8f8f8" stroke-width="1"/>
<line x1="365.5" y1="278.1" x2="508.9" y2="278.1" stroke="#f8f8f8" stroke-width="1"/>
<line x1="365.5" y1="271.8" x2="508.9" y2="271.8" stroke="#f8f8f8" stroke-width="1"/>
<line x1="365.5" y1="265.5" x2="508.9" y2="265.5" stroke="#f8f8f8" stroke-width="1"/>
<line x1="365.5" y1="259.2" x2="508.9" y2="259.2" stroke="#f8f8f8" stroke-width="1"/>
<line x1="365.5" y1="252.9" x2="508.9" y2="252.9" stroke="#f8f8f8" stroke-width="1"/>
<line x1="365.5" y1="246.6" x2="508.9" y2="246.6" stroke="#f8f8f8" stroke-width="1"/>
<line x1="365.5" y1="240.3" x2="508.9" y2="240.3" stroke="#f8f8f8" stroke-width="1"/>
<line x1="365.5" y1="234.0" x2="508.9" y2="234.0" stroke="#f8f8f8" stroke-width="1"/>
<line x1="365.5" y1="227.7" x2="508.9" y2="227.7" stroke="#f8f8f8" stroke-width="1"/>
<line x1="365.5" y1="290.7" x2="508.9" y2="290.7" stroke="#e2e2e2" stroke-width="0.8" stroke-dasharray="1 1.2"/>
<line x1="365.5" y1="263.3" x2="516.5" y2="263.3" stroke="#b0b0b0" stroke-width="1.1"/>
<rect x="365.5" y="294.2" width="143.39999999999998" height="21.69999999999999" fill="#fff"/>
<rect x="366.00" y="294.2" width="1.80" height="21.69999999999999" fill="rgb(192,192,192)"/>
<rect x="367.80" y="294.2" width="2.00" height="21.69999999999999" fill="rgb(48,48,48)"/>
<rect x="369.80" y="294.2" width="2.40" height="21.69999999999999" fill="rgb(140,140,140)"/>
<rect x="372.20" y="294.2" width="1.90" height="21.69999999999999" fill="rgb(255,255,255)"/>
<rect x="374.10" y="294.2" width="1.40" height="21.69999999999999" fill="rgb(140,140,140)"/>
<rect x="375.50" y="294.2" width="2.40" height="21.69999999999999" fill="rgb(98,98,98)"/>
<rect x="377.90" y="294.2" width="2.00" height="21.69999999999999" fill="rgb(48,48,48)"/>
<rect x="379.90" y="294.2" width="2.90" height="21.69999999999999" fill="rgb(140,140,140)"/>
<rect x="382.80" y="294.2" width="1.40" height="21.69999999999999" fill="rgb(255,255,255)"/>
<rect x="384.20" y="294.2" width="1.40" height="21.69999999999999" fill="rgb(140,140,140)"/>
<rect x="385.60" y="294.2" width="1.50" height="21.69999999999999" fill="rgb(255,255,255)"/>
<rect x="387.10" y="294.2" width="1.90" height="21.69999999999999" fill="rgb(192,192,192)"/>
<rect x="389.00" y="294.2" width="2.90" height="21.69999999999999" fill="rgb(98,98,98)"/>
<rect x="391.90" y="294.2" width="1.40" height="21.69999999999999" fill="rgb(192,192,192)"/>
<rect x="393.30" y="294.2" width="2.00" height="21.69999999999999" fill="rgb(140,140,140)"/>
<rect x="395.30" y="294.2" width="1.40" height="21.69999999999999" fill="rgb(98,98,98)"/>
<rect x="396.70" y="294.2" width="1.40" height="21.69999999999999" fill="rgb(255,255,255)"/>
<rect x="398.10" y="294.2" width="5.30" height="21.69999999999999" fill="rgb(140,140,140)"/>
<rect x="403.40" y="294.2" width="2.90" height="21.69999999999999" fill="rgb(255,255,255)"/>
<rect x="406.30" y="294.2" width="1.50" height="21.69999999999999" fill="rgb(140,140,140)"/>
<rect x="407.80" y="294.2" width="1.40" height="21.69999999999999" fill="rgb(255,255,255)"/>
<rect x="409.20" y="294.2" width="2.90" height="21.69999999999999" fill="rgb(140,140,140)"/>
<rect x="412.10" y="294.2" width="1.90" height="21.69999999999999" fill="rgb(98,98,98)"/>
<rect x="414.00" y="294.2" width="1.80" height="21.69999999999999" fill="rgb(255,255,255)"/>
<rect x="415.80" y="294.2" width="2.00" height="21.69999999999999" fill="rgb(140,140,140)"/>
<rect x="417.80" y="294.2" width="0.90" height="21.69999999999999" fill="rgb(48,48,48)"/>
<rect x="418.70" y="294.2" width="2.90" height="21.69999999999999" fill="rgb(140,140,140)"/>
<rect x="421.60" y="294.2" width="1.90" height="21.69999999999999" fill="rgb(192,192,192)"/>
<rect x="423.50" y="294.2" width="1.50" height="21.69999999999999" fill="rgb(48,48,48)"/>
<rect x="425.00" y="294.2" width="2.40" height="21.69999999999999" fill="rgb(140,140,140)"/>
<rect x="427.40" y="294.2" width="1.40" height="21.69999999999999" fill="rgb(255,255,255)"/>
<rect x="428.80" y="294.2" width="1.50" height="21.69999999999999" fill="rgb(48,48,48)"/>
<rect x="430.30" y="294.2" width="1.40" height="21.69999999999999" fill="rgb(255,255,255)"/>
<rect x="431.70" y="294.2" width="1.90" height="21.69999999999999" fill="rgb(140,140,140)"/>
<rect x="433.60" y="294.2" width="2.00" height="21.69999999999999" fill="rgb(255,255,255)"/>
<rect x="435.60" y="294.2" width="1.90" height="21.69999999999999" fill="rgb(140,140,140)"/>
<rect x="437.50" y="294.2" width="3.30" height="21.69999999999999" fill="rgb(255,255,255)"/>
<rect x="440.80" y="294.2" width="3.90" height="21.69999999999999" fill="rgb(140,140,140)"/>
<rect x="444.70" y="294.2" width="2.40" height="21.69999999999999" fill="rgb(192,192,192)"/>
<rect x="447.10" y="294.2" width="1.40" height="21.69999999999999" fill="rgb(140,140,140)"/>
<rect x="448.50" y="294.2" width="1.50" height="21.69999999999999" fill="rgb(48,48,48)"/>
<rect x="450.00" y="294.2" width="2.40" height="21.69999999999999" fill="rgb(255,255,255)"/>
<rect x="452.40" y="294.2" width="1.90" height="21.69999999999999" fill="rgb(192,192,192)"/>
<rect x="454.30" y="294.2" width="1.90" height="21.69999999999999" fill="rgb(48,48,48)"/>
<rect x="456.20" y="294.2" width="1.50" height="21.69999999999999" fill="rgb(140,140,140)"/>
<rect x="457.70" y="294.2" width="1.90" height="21.69999999999999" fill="rgb(255,255,255)"/>
<rect x="459.60" y="294.2" width="1.40" height="21.69999999999999" fill="rgb(140,140,140)"/>
<rect x="461.00" y="294.2" width="2.00" height="21.69999999999999" fill="rgb(48,48,48)"/>
<rect x="463.00" y="294.2" width="1.50" height="21.69999999999999" fill="rgb(255,255,255)"/>
<rect x="464.50" y="294.2" width="2.50" height="21.69999999999999" fill="rgb(140,140,140)"/>
<rect x="467.00" y="294.2" width="1.50" height="21.69999999999999" fill="rgb(48,48,48)"/>
<rect x="468.50" y="294.2" width="1.50" height="21.69999999999999" fill="rgb(140,140,140)"/>
<rect x="470.00" y="294.2" width="1.50" height="21.69999999999999" fill="rgb(48,48,48)"/>
<rect x="471.50" y="294.2" width="1.50" height="21.69999999999999" fill="rgb(192,192,192)"/>
<rect x="473.00" y="294.2" width="2.00" height="21.69999999999999" fill="rgb(255,255,255)"/>
<rect x="475.00" y="294.2" width="6.00" height="21.69999999999999" fill="rgb(192,192,192)"/>
<rect x="481.00" y="294.2" width="2.00" height="21.69999999999999" fill="rgb(48,48,48)"/>
<rect x="483.00" y="294.2" width="2.00" height="21.69999999999999" fill="rgb(140,140,140)"/>
<rect x="485.00" y="294.2" width="1.50" height="21.69999999999999" fill="rgb(255,255,255)"/>
<rect x="486.50" y="294.2" width="2.00" height="21.69999999999999" fill="rgb(140,140,140)"/>
<rect x="488.50" y="294.2" width="1.50" height="21.69999999999999" fill="rgb(48,48,48)"/>
<rect x="490.00" y="294.2" width="1.50" height="21.69999999999999" fill="rgb(255,255,255)"/>
<rect x="491.50" y="294.2" width="2.00" height="21.69999999999999" fill="rgb(98,98,98)"/>
<rect x="493.50" y="294.2" width="2.00" height="21.69999999999999" fill="rgb(140,140,140)"/>
<rect x="495.50" y="294.2" width="1.50" height="21.69999999999999" fill="rgb(255,255,255)"/>
<rect x="497.00" y="294.2" width="1.50" height="21.69999999999999" fill="rgb(98,98,98)"/>
<rect x="498.50" y="294.2" width="2.00" height="21.69999999999999" fill="rgb(255,255,255)"/>
<rect x="500.50" y="294.2" width="2.00" height="21.69999999999999" fill="rgb(140,140,140)"/>
<rect x="502.50" y="294.2" width="1.50" height="21.69999999999999" fill="rgb(48,48,48)"/>
<rect x="504.00" y="294.2" width="1.50" height="21.69999999999999" fill="rgb(140,140,140)"/>
<rect x="505.50" y="294.2" width="1.50" height="21.69999999999999" fill="rgb(48,48,48)"/>
<rect x="507.00" y="294.2" width="1.90" height="21.69999999999999" fill="rgb(140,140,140)"/>
<rect x="365.5" y="315.9" width="143.39999999999998" height="6.400000000000034" fill="url(#g3)"/>
<polyline points="365.6,254.7 367.7,247.5 370.1,241.0 372.5,237.0 374.9,239.4 377.3,236.2 379.4,232.9 380.6,227.8 383.0,227.8 386.2,229.7 390.3,231.6 394.3,232.6 399.2,235.3 407.2,241.0 415.3,246.7 423.4,253.1 431.5,259.6 438.0,263.6 446.1,270.1 454.2,275.7 462.2,281.1 470.3,284.6 478.4,289.1 486.5,287.0 494.5,285.4 499.4,282.2 502.6,283.8 505.0,279.8 506.7,275.7 507.8,268.5 508.8,258.8 509.1,256.3" fill="none" stroke="#9cdb5e" stroke-width="1.6" stroke-linejoin="round"/>
<rect x="365.5" y="224.5" width="151.0" height="97.80000000000001" fill="none" stroke="#3a3a3a" stroke-width="1.25"/>
<text transform="translate(508.50 235.80) scale(1 1.13)" font-size="8.3" text-anchor="end" fill="#000">NES=1.101</text>
<text transform="translate(508.50 253.50) scale(1 1.13)" font-size="8.3" text-anchor="end" fill="#000">q=0.206</text>
<text transform="translate(372.90 334.50) scale(1 1.13)" font-size="8.3" fill="#000">Double mutant</text>
<text transform="translate(490.80 334.50) scale(1 1.13)" font-size="8.3" fill="#000">WT</text>
<defs><linearGradient id="g4" x1="0" x2="1" y1="0" y2="0"><stop offset="0" stop-color="#d85046"/><stop offset="0.17" stop-color="#d8584e"/><stop offset="0.22" stop-color="#d86a6c"/><stop offset="0.28" stop-color="#e2949e"/><stop offset="0.33" stop-color="#ecb8cc"/><stop offset="0.42" stop-color="#f2cce4"/><stop offset="0.52" stop-color="#eee2f4"/><stop offset="0.62" stop-color="#dcdcf8"/><stop offset="0.70" stop-color="#c6c6f4"/><stop offset="0.74" stop-color="#7c7ce4"/><stop offset="0.86" stop-color="#5050da"/><stop offset="1" stop-color="#2828c8"/></linearGradient></defs>
<line x1="31.1" y1="351.5" x2="31.1" y2="416.7" stroke="#f6f6f6" stroke-width="1"/>
<line x1="45.4" y1="351.5" x2="45.4" y2="416.7" stroke="#f6f6f6" stroke-width="1"/>
<line x1="59.7" y1="351.5" x2="59.7" y2="416.7" stroke="#f6f6f6" stroke-width="1"/>
<line x1="74.0" y1="351.5" x2="74.0" y2="416.7" stroke="#f6f6f6" stroke-width="1"/>
<line x1="88.3" y1="351.5" x2="88.3" y2="416.7" stroke="#f6f6f6" stroke-width="1"/>
<line x1="102.6" y1="351.5" x2="102.6" y2="416.7" stroke="#f6f6f6" stroke-width="1"/>
<line x1="116.9" y1="351.5" x2="116.9" y2="416.7" stroke="#f6f6f6" stroke-width="1"/>
<line x1="131.2" y1="351.5" x2="131.2" y2="416.7" stroke="#f6f6f6" stroke-width="1"/>
<line x1="145.5" y1="351.5" x2="145.5" y2="416.7" stroke="#f6f6f6" stroke-width="1"/>
<line x1="16.6" y1="410.4" x2="157.8" y2="410.4" stroke="#f8f8f8" stroke-width="1"/>
<line x1="16.6" y1="404.1" x2="157.8" y2="404.1" stroke="#f8f8f8" stroke-width="1"/>
<line x1="16.6" y1="397.8" x2="157.8" y2="397.8" stroke="#f8f8f8" stroke-width="1"/>
<line x1="16.6" y1="391.5" x2="157.8" y2="391.5" stroke="#f8f8f8" stroke-width="1"/>
<line x1="16.6" y1="385.2" x2="157.8" y2="385.2" stroke="#f8f8f8" stroke-width="1"/>
<line x1="16.6" y1="378.9" x2="157.8" y2="378.9" stroke="#f8f8f8" stroke-width="1"/>
<line x1="16.6" y1="372.6" x2="157.8" y2="372.6" stroke="#f8f8f8" stroke-width="1"/>
<line x1="16.6" y1="366.3" x2="157.8" y2="366.3" stroke="#f8f8f8" stroke-width="1"/>
<line x1="16.6" y1="360.0" x2="157.8" y2="360.0" stroke="#f8f8f8" stroke-width="1"/>
<line x1="16.6" y1="353.7" x2="157.8" y2="353.7" stroke="#f8f8f8" stroke-width="1"/>
<line x1="16.6" y1="416.7" x2="157.8" y2="416.7" stroke="#e2e2e2" stroke-width="0.8" stroke-dasharray="1 1.2"/>
<line x1="16.6" y1="387.8" x2="165.4" y2="387.8" stroke="#b0b0b0" stroke-width="1.1"/>
<rect x="16.6" y="420.2" width="141.20000000000002" height="21.30000000000001" fill="#fff"/>
<rect x="17.00" y="420.2" width="1.40" height="21.30000000000001" fill="rgb(98,98,98)"/>
<rect x="18.40" y="420.2" width="1.40" height="21.30000000000001" fill="rgb(48,48,48)"/>
<rect x="19.80" y="420.2" width="1.50" height="21.30000000000001" fill="rgb(140,140,140)"/>
<rect x="21.30" y="420.2" width="2.40" height="21.30000000000001" fill="rgb(192,192,192)"/>
<rect x="23.70" y="420.2" width="1.40" height="21.30000000000001" fill="rgb(48,48,48)"/>
<rect x="25.10" y="420.2" width="2.90" height="21.30000000000001" fill="rgb(192,192,192)"/>
<rect x="28.00" y="420.2" width="1.90" height="21.30000000000001" fill="rgb(98,98,98)"/>
<rect x="29.90" y="420.2" width="1.90" height="21.30000000000001" fill="rgb(140,140,140)"/>
<rect x="31.80" y="420.2" width="2.00" height="21.30000000000001" fill="rgb(192,192,192)"/>
<rect x="33.80" y="420.2" width="1.40" height="21.30000000000001" fill="rgb(48,48,48)"/>
<rect x="35.20" y="420.2" width="2.40" height="21.30000000000001" fill="rgb(255,255,255)"/>
<rect x="37.60" y="420.2" width="3.40" height="21.30000000000001" fill="rgb(140,140,140)"/>
<rect x="41.00" y="420.2" width="1.40" height="21.30000000000001" fill="rgb(255,255,255)"/>
<rect x="42.40" y="420.2" width="1.40" height="21.30000000000001" fill="rgb(140,140,140)"/>
<rect x="43.80" y="420.2" width="2.00" height="21.30000000000001" fill="rgb(192,192,192)"/>
<rect x="45.80" y="420.2" width="1.40" height="21.30000000000001" fill="rgb(48,48,48)"/>
<rect x="47.20" y="420.2" width="1.50" height="21.30000000000001" fill="rgb(140,140,140)"/>
<rect x="48.70" y="420.2" width="2.40" height="21.30000000000001" fill="rgb(255,255,255)"/>
<rect x="51.10" y="420.2" width="1.90" height="21.30000000000001" fill="rgb(140,140,140)"/>
<rect x="53.00" y="420.2" width="1.40" height="21.30000000000001" fill="rgb(48,48,48)"/>
<rect x="54.40" y="420.2" width="1.50" height="21.30000000000001" fill="rgb(140,140,140)"/>
<rect x="55.90" y="420.2" width="1.40" height="21.30000000000001" fill="rgb(255,255,255)"/>
<rect x="57.30" y="420.2" width="1.90" height="21.30000000000001" fill="rgb(140,140,140)"/>
<rect x="59.20" y="420.2" width="1.00" height="21.30000000000001" fill="rgb(48,48,48)"/>
<rect x="60.20" y="420.2" width="1.90" height="21.30000000000001" fill="rgb(255,255,255)"/>
<rect x="62.10" y="420.2" width="2.80" height="21.30000000000001" fill="rgb(140,140,140)"/>
<rect x="64.90" y="420.2" width="1.90" height="21.30000000000001" fill="rgb(255,255,255)"/>
<rect x="66.80" y="420.2" width="1.50" height="21.30000000000001" fill="rgb(48,48,48)"/>
<rect x="68.30" y="420.2" width="1.90" height="21.30000000000001" fill="rgb(255,255,255)"/>
<rect x="70.20" y="420.2" width="1.90" height="21.30000000000001" fill="rgb(98,98,98)"/>
<rect x="72.10" y="420.2" width="2.40" height="21.30000000000001" fill="rgb(140,140,140)"/>
<rect x="74.50" y="420.2" width="2.00" height="21.30000000000001" fill="rgb(255,255,255)"/>
<rect x="76.50" y="420.2" width="1.40" height="21.30000000000001" fill="rgb(98,98,98)"/>
<rect x="77.90" y="420.2" width="1.40" height="21.30000000000001" fill="rgb(255,255,255)"/>
<rect x="79.30" y="420.2" width="1.50" height="21.30000000000001" fill="rgb(48,48,48)"/>
<rect x="80.80" y="420.2" width="1.40" height="21.30000000000001" fill="rgb(140,140,140)"/>
<rect x="82.20" y="420.2" width="1.50" height="21.30000000000001" fill="rgb(98,98,98)"/>
<rect x="83.70" y="420.2" width="1.90" height="21.30000000000001" fill="rgb(192,192,192)"/>
<rect x="85.60" y="420.2" width="1.40" height="21.30000000000001" fill="rgb(255,255,255)"/>
<rect x="87.00" y="420.2" width="1.50" height="21.30000000000001" fill="rgb(140,140,140)"/>
<rect x="88.50" y="420.2" width="1.40" height="21.30000000000001" fill="rgb(255,255,255)"/>
<rect x="89.90" y="420.2" width="1.90" height="21.30000000000001" fill="rgb(48,48,48)"/>
<rect x="91.80" y="420.2" width="3.90" height="21.30000000000001" fill="rgb(140,140,140)"/>
<rect x="95.70" y="420.2" width="1.40" height="21.30000000000001" fill="rgb(255,255,255)"/>
<rect x="97.10" y="420.2" width="2.00" height="21.30000000000001" fill="rgb(48,48,48)"/>
<rect x="99.10" y="420.2" width="1.90" height="21.30000000000001" fill="rgb(140,140,140)"/>
<rect x="101.00" y="420.2" width="1.40" height="21.30000000000001" fill="rgb(192,192,192)"/>
<rect x="102.40" y="420.2" width="1.90" height="21.30000000000001" fill="rgb(48,48,48)"/>
<rect x="104.30" y="420.2" width="1.50" height="21.30000000000001" fill="rgb(140,140,140)"/>
<rect x="105.80" y="420.2" width="1.40" height="21.30000000000001" fill="rgb(192,192,192)"/>
<rect x="107.20" y="420.2" width="2.00" height="21.30000000000001" fill="rgb(140,140,140)"/>
<rect x="109.20" y="420.2" width="1.40" height="21.30000000000001" fill="rgb(192,192,192)"/>
<rect x="110.60" y="420.2" width="1.40" height="21.30000000000001" fill="rgb(140,140,140)"/>
<rect x="112.00" y="420.2" width="2.40" height="21.30000000000001" fill="rgb(140,140,140)"/>
<rect x="114.40" y="420.2" width="1.90" height="21.30000000000001" fill="rgb(48,48,48)"/>
<rect x="116.30" y="420.2" width="1.40" height="21.30000000000001" fill="rgb(192,192,192)"/>
<rect x="117.70" y="420.2" width="1.50" height="21.30000000000001" fill="rgb(140,140,140)"/>
<rect x="119.20" y="420.2" width="1.40" height="21.30000000000001" fill="rgb(255,255,255)"/>
<rect x="120.60" y="420.2" width="1.90" height="21.30000000000001" fill="rgb(140,140,140)"/>
<rect x="122.50" y="420.2" width="3.40" height="21.30000000000001" fill="rgb(255,255,255)"/>
<rect x="125.90" y="420.2" width="2.40" height="21.30000000000001" fill="rgb(48,48,48)"/>
<rect x="128.30" y="420.2" width="1.90" height="21.30000000000001" fill="rgb(140,140,140)"/>
<rect x="130.20" y="420.2" width="2.00" height="21.30000000000001" fill="rgb(48,48,48)"/>
<rect x="132.20" y="420.2" width="2.40" height="21.30000000000001" fill="rgb(192,192,192)"/>
<rect x="134.60" y="420.2" width="1.40" height="21.30000000000001" fill="rgb(140,140,140)"/>
<rect x="136.00" y="420.2" width="1.40" height="21.30000000000001" fill="rgb(48,48,48)"/>
<rect x="137.40" y="420.2" width="1.00" height="21.30000000000001" fill="rgb(255,255,255)"/>
<rect x="138.40" y="420.2" width="1.40" height="21.30000000000001" fill="rgb(48,48,48)"/>
<rect x="139.80" y="420.2" width="2.00" height="21.30000000000001" fill="rgb(140,140,140)"/>
<rect x="141.80" y="420.2" width="1.90" height="21.30000000000001" fill="rgb(255,255,255)"/>
<rect x="143.70" y="420.2" width="1.90" height="21.30000000000001" fill="rgb(140,140,140)"/>
<rect x="145.60" y="420.2" width="1.50" height="21.30000000000001" fill="rgb(48,48,48)"/>
<rect x="147.10" y="420.2" width="1.40" height="21.30000000000001" fill="rgb(140,140,140)"/>
<rect x="148.50" y="420.2" width="1.90" height="21.30000000000001" fill="rgb(255,255,255)"/>
<rect x="150.40" y="420.2" width="1.90" height="21.30000000000001" fill="rgb(48,48,48)"/>
<rect x="152.30" y="420.2" width="1.50" height="21.30000000000001" fill="rgb(140,140,140)"/>
<rect x="153.80" y="420.2" width="1.90" height="21.30000000000001" fill="rgb(192,192,192)"/>
<rect x="155.70" y="420.2" width="2.00" height="21.30000000000001" fill="rgb(48,48,48)"/>
<rect x="16.6" y="441.5" width="141.20000000000002" height="6.300000000000011" fill="url(#g4)"/>
<polyline points="16.9,374.1 18.2,366.8 20.7,360.3 23.1,359.5 24.7,357.1 29.5,355.0 34.4,354.7 39.2,356.3 47.3,357.1 55.4,362.8 63.5,368.4 71.5,374.1 79.6,379.7 87.7,386.2 95.0,392.7 98.1,395.1 106.2,400.7 114.2,406.1 122.3,411.2 128.8,414.1 134.4,415.3 138.5,412.9 141.7,412.0 144.9,410.4 148.2,410.4 150.6,407.2 153.0,402.4 155.4,396.7 157.0,391.9 158.7,386.7" fill="none" stroke="#9cdb5e" stroke-width="1.6" stroke-linejoin="round"/>
<rect x="16.6" y="351.5" width="148.8" height="96.30000000000001" fill="none" stroke="#3a3a3a" stroke-width="1.25"/>
<text transform="translate(157.00 363.60) scale(1 1.13)" font-size="8.3" text-anchor="end" fill="#000">NES=1.117</text>
<text transform="translate(157.00 381.30) scale(1 1.13)" font-size="8.3" text-anchor="end" fill="#000">n.s.</text>
<text transform="translate(17.70 462.60) scale(1 1.13)" font-size="8.3" fill="#000">TET2KD</text>
<text transform="translate(141.30 462.60) scale(1 1.13)" font-size="8.3" fill="#000">WT</text>
<defs><linearGradient id="g5" x1="0" x2="1" y1="0" y2="0"><stop offset="0" stop-color="#d85046"/><stop offset="0.17" stop-color="#d8584e"/><stop offset="0.22" stop-color="#d86a6c"/><stop offset="0.28" stop-color="#e2949e"/><stop offset="0.33" stop-color="#ecb8cc"/><stop offset="0.42" stop-color="#f2cce4"/><stop offset="0.52" stop-color="#eee2f4"/><stop offset="0.62" stop-color="#dcdcf8"/><stop offset="0.70" stop-color="#c6c6f4"/><stop offset="0.74" stop-color="#7c7ce4"/><stop offset="0.86" stop-color="#5050da"/><stop offset="1" stop-color="#2828c8"/></linearGradient></defs>
<line x1="207.3" y1="351.6" x2="207.3" y2="415.9" stroke="#f6f6f6" stroke-width="1"/>
<line x1="221.6" y1="351.6" x2="221.6" y2="415.9" stroke="#f6f6f6" stroke-width="1"/>
<line x1="235.9" y1="351.6" x2="235.9" y2="415.9" stroke="#f6f6f6" stroke-width="1"/>
<line x1="250.2" y1="351.6" x2="250.2" y2="415.9" stroke="#f6f6f6" stroke-width="1"/>
<line x1="264.5" y1="351.6" x2="264.5" y2="415.9" stroke="#f6f6f6" stroke-width="1"/>
<line x1="278.8" y1="351.6" x2="278.8" y2="415.9" stroke="#f6f6f6" stroke-width="1"/>
<line x1="293.1" y1="351.6" x2="293.1" y2="415.9" stroke="#f6f6f6" stroke-width="1"/>
<line x1="307.4" y1="351.6" x2="307.4" y2="415.9" stroke="#f6f6f6" stroke-width="1"/>
<line x1="321.7" y1="351.6" x2="321.7" y2="415.9" stroke="#f6f6f6" stroke-width="1"/>
<line x1="192.8" y1="409.6" x2="333.8" y2="409.6" stroke="#f8f8f8" stroke-width="1"/>
<line x1="192.8" y1="403.3" x2="333.8" y2="403.3" stroke="#f8f8f8" stroke-width="1"/>
<line x1="192.8" y1="397.0" x2="333.8" y2="397.0" stroke="#f8f8f8" stroke-width="1"/>
<line x1="192.8" y1="390.7" x2="333.8" y2="390.7" stroke="#f8f8f8" stroke-width="1"/>
<line x1="192.8" y1="384.4" x2="333.8" y2="384.4" stroke="#f8f8f8" stroke-width="1"/>
<line x1="192.8" y1="378.1" x2="333.8" y2="378.1" stroke="#f8f8f8" stroke-width="1"/>
<line x1="192.8" y1="371.8" x2="333.8" y2="371.8" stroke="#f8f8f8" stroke-width="1"/>
<line x1="192.8" y1="365.5" x2="333.8" y2="365.5" stroke="#f8f8f8" stroke-width="1"/>
<line x1="192.8" y1="359.2" x2="333.8" y2="359.2" stroke="#f8f8f8" stroke-width="1"/>
<line x1="192.8" y1="415.9" x2="333.8" y2="415.9" stroke="#e2e2e2" stroke-width="0.8" stroke-dasharray="1 1.2"/>
<line x1="192.8" y1="372.3" x2="341.1" y2="372.3" stroke="#b0b0b0" stroke-width="1.1"/>
<rect x="192.8" y="419.4" width="141.0" height="22.0" fill="#fff"/>
<rect x="193.40" y="419.4" width="1.90" height="22.0" fill="rgb(48,48,48)"/>
<rect x="195.30" y="419.4" width="1.50" height="22.0" fill="rgb(192,192,192)"/>
<rect x="196.80" y="419.4" width="1.90" height="22.0" fill="rgb(48,48,48)"/>
<rect x="198.70" y="419.4" width="1.90" height="22.0" fill="rgb(255,255,255)"/>
<rect x="200.60" y="419.4" width="2.90" height="22.0" fill="rgb(140,140,140)"/>
<rect x="203.50" y="419.4" width="1.90" height="22.0" fill="rgb(48,48,48)"/>
<rect x="205.40" y="419.4" width="2.90" height="22.0" fill="rgb(255,255,255)"/>
<rect x="208.30" y="419.4" width="1.90" height="22.0" fill="rgb(98,98,98)"/>
<rect x="210.20" y="419.4" width="2.90" height="22.0" fill="rgb(140,140,140)"/>
<rect x="213.10" y="419.4" width="1.50" height="22.0" fill="rgb(48,48,48)"/>
<rect x="214.60" y="419.4" width="1.90" height="22.0" fill="rgb(255,255,255)"/>
<rect x="216.50" y="419.4" width="1.40" height="22.0" fill="rgb(140,140,140)"/>
<rect x="217.90" y="419.4" width="1.90" height="22.0" fill="rgb(192,192,192)"/>
<rect x="219.80" y="419.4" width="2.90" height="22.0" fill="rgb(140,140,140)"/>
<rect x="222.70" y="419.4" width="1.50" height="22.0" fill="rgb(48,48,48)"/>
<rect x="224.20" y="419.4" width="1.40" height="22.0" fill="rgb(140,140,140)"/>
<rect x="225.60" y="419.4" width="1.90" height="22.0" fill="rgb(48,48,48)"/>
<rect x="227.50" y="419.4" width="1.50" height="22.0" fill="rgb(255,255,255)"/>
<rect x="229.00" y="419.4" width="1.90" height="22.0" fill="rgb(98,98,98)"/>
<rect x="230.90" y="419.4" width="1.40" height="22.0" fill="rgb(255,255,255)"/>
<rect x="232.30" y="419.4" width="1.50" height="22.0" fill="rgb(48,48,48)"/>
<rect x="233.80" y="419.4" width="1.40" height="22.0" fill="rgb(255,255,255)"/>
<rect x="235.20" y="419.4" width="2.00" height="22.0" fill="rgb(48,48,48)"/>
<rect x="237.20" y="419.4" width="1.40" height="22.0" fill="rgb(140,140,140)"/>
<rect x="238.60" y="419.4" width="1.40" height="22.0" fill="rgb(98,98,98)"/>
<rect x="240.00" y="419.4" width="2.80" height="22.0" fill="rgb(255,255,255)"/>
<rect x="242.80" y="419.4" width="2.50" height="22.0" fill="rgb(140,140,140)"/>
<rect x="245.30" y="419.4" width="1.40" height="22.0" fill="rgb(192,192,192)"/>
<rect x="246.70" y="419.4" width="1.40" height="22.0" fill="rgb(48,48,48)"/>
<rect x="248.10" y="419.4" width="1.50" height="22.0" fill="rgb(192,192,192)"/>
<rect x="249.60" y="419.4" width="1.40" height="22.0" fill="rgb(48,48,48)"/>
<rect x="251.00" y="419.4" width="1.90" height="22.0" fill="rgb(192,192,192)"/>
<rect x="252.90" y="419.4" width="2.40" height="22.0" fill="rgb(140,140,140)"/>
<rect x="255.30" y="419.4" width="1.50" height="22.0" fill="rgb(48,48,48)"/>
<rect x="256.80" y="419.4" width="1.90" height="22.0" fill="rgb(255,255,255)"/>
<rect x="258.70" y="419.4" width="1.50" height="22.0" fill="rgb(48,48,48)"/>
<rect x="260.20" y="419.4" width="1.90" height="22.0" fill="rgb(140,140,140)"/>
<rect x="262.10" y="419.4" width="1.40" height="22.0" fill="rgb(48,48,48)"/>
<rect x="263.50" y="419.4" width="1.90" height="22.0" fill="rgb(192,192,192)"/>
<rect x="265.40" y="419.4" width="2.00" height="22.0" fill="rgb(98,98,98)"/>
<rect x="267.40" y="419.4" width="0.90" height="22.0" fill="rgb(255,255,255)"/>
<rect x="268.30" y="419.4" width="5.80" height="22.0" fill="rgb(140,140,140)"/>
<rect x="274.10" y="419.4" width="5.80" height="22.0" fill="rgb(255,255,255)"/>
<rect x="279.90" y="419.4" width="1.40" height="22.0" fill="rgb(48,48,48)"/>
<rect x="281.30" y="419.4" width="1.50" height="22.0" fill="rgb(255,255,255)"/>
<rect x="282.80" y="419.4" width="1.90" height="22.0" fill="rgb(48,48,48)"/>
<rect x="284.70" y="419.4" width="1.40" height="22.0" fill="rgb(255,255,255)"/>
<rect x="286.10" y="419.4" width="2.30" height="22.0" fill="rgb(140,140,140)"/>
<rect x="288.40" y="419.4" width="2.40" height="22.0" fill="rgb(140,140,140)"/>
<rect x="290.80" y="419.4" width="1.50" height="22.0" fill="rgb(255,255,255)"/>
<rect x="292.30" y="419.4" width="1.40" height="22.0" fill="rgb(98,98,98)"/>
<rect x="293.70" y="419.4" width="2.00" height="22.0" fill="rgb(255,255,255)"/>
<rect x="295.70" y="419.4" width="1.40" height="22.0" fill="rgb(48,48,48)"/>
<rect x="297.10" y="419.4" width="2.90" height="22.0" fill="rgb(192,192,192)"/>
<rect x="300.00" y="419.4" width="2.40" height="22.0" fill="rgb(255,255,255)"/>
<rect x="302.40" y="419.4" width="1.90" height="22.0" fill="rgb(98,98,98)"/>
<rect x="304.30" y="419.4" width="1.90" height="22.0" fill="rgb(140,140,140)"/>
<rect x="306.20" y="419.4" width="1.50" height="22.0" fill="rgb(255,255,255)"/>
<rect x="307.70" y="419.4" width="1.90" height="22.0" fill="rgb(48,48,48)"/>
<rect x="309.60" y="419.4" width="1.40" height="22.0" fill="rgb(255,255,255)"/>
<rect x="311.00" y="419.4" width="2.40" height="22.0" fill="rgb(140,140,140)"/>
<rect x="313.40" y="419.4" width="2.40" height="22.0" fill="rgb(98,98,98)"/>
<rect x="315.80" y="419.4" width="2.00" height="22.0" fill="rgb(140,140,140)"/>
<rect x="317.80" y="419.4" width="2.40" height="22.0" fill="rgb(48,48,48)"/>
<rect x="320.20" y="419.4" width="1.40" height="22.0" fill="rgb(140,140,140)"/>
<rect x="321.60" y="419.4" width="2.40" height="22.0" fill="rgb(48,48,48)"/>
<rect x="324.00" y="419.4" width="1.90" height="22.0" fill="rgb(98,98,98)"/>
<rect x="325.90" y="419.4" width="2.40" height="22.0" fill="rgb(140,140,140)"/>
<rect x="328.30" y="419.4" width="1.50" height="22.0" fill="rgb(48,48,48)"/>
<rect x="329.80" y="419.4" width="1.40" height="22.0" fill="rgb(255,255,255)"/>
<rect x="331.20" y="419.4" width="2.60" height="22.0" fill="rgb(48,48,48)"/>
<rect x="192.8" y="441.4" width="141.0" height="6.900000000000034" fill="url(#g5)"/>
<polyline points="193.6,367.6 194.8,362.0 197.3,358.7 199.7,357.1 202.1,358.2 205.3,355.5 207.0,355.0 211.0,356.6 214.2,357.9 218.3,360.3 223.9,361.2 228.8,362.8 235.2,366.8 241.7,370.8 248.2,375.7 254.6,380.5 262.7,386.2 273.1,392.2 281.2,397.5 289.2,403.2 297.3,408.0 305.4,412.9 311.8,415.3 316.7,414.8 320.7,412.0 324.0,408.0 326.4,404.0 328.8,399.1 330.4,395.1 331.6,388.6 332.5,380.5 333.7,372.5" fill="none" stroke="#9cdb5e" stroke-width="1.6" stroke-linejoin="round"/>
<rect x="192.8" y="351.6" width="148.3" height="96.69999999999999" fill="none" stroke="#3a3a3a" stroke-width="1.25"/>
<text transform="translate(332.50 363.60) scale(1 1.13)" font-size="8.3" text-anchor="end" fill="#000">NES= -1.692</text>
<text transform="translate(332.50 381.30) scale(1 1.13)" font-size="8.3" text-anchor="end" fill="#000">q=0.012</text>
<text transform="translate(194.30 462.60) scale(1 1.13)" font-size="8.3" fill="#000"><tspan font-style="italic">JAK2</tspan>V617F</text>
<text transform="translate(318.50 462.60) scale(1 1.13)" font-size="8.3" fill="#000">WT</text>
<defs><linearGradient id="g6" x1="0" x2="1" y1="0" y2="0"><stop offset="0" stop-color="#d85046"/><stop offset="0.17" stop-color="#d8584e"/><stop offset="0.22" stop-color="#d86a6c"/><stop offset="0.28" stop-color="#e2949e"/><stop offset="0.33" stop-color="#ecb8cc"/><stop offset="0.42" stop-color="#f2cce4"/><stop offset="0.52" stop-color="#eee2f4"/><stop offset="0.62" stop-color="#dcdcf8"/><stop offset="0.70" stop-color="#c6c6f4"/><stop offset="0.74" stop-color="#7c7ce4"/><stop offset="0.86" stop-color="#5050da"/><stop offset="1" stop-color="#2828c8"/></linearGradient></defs>
<line x1="380.3" y1="351.4" x2="380.3" y2="416.7" stroke="#f6f6f6" stroke-width="1"/>
<line x1="394.6" y1="351.4" x2="394.6" y2="416.7" stroke="#f6f6f6" stroke-width="1"/>
<line x1="408.9" y1="351.4" x2="408.9" y2="416.7" stroke="#f6f6f6" stroke-width="1"/>
<line x1="423.2" y1="351.4" x2="423.2" y2="416.7" stroke="#f6f6f6" stroke-width="1"/>
<line x1="437.5" y1="351.4" x2="437.5" y2="416.7" stroke="#f6f6f6" stroke-width="1"/>
<line x1="451.8" y1="351.4" x2="451.8" y2="416.7" stroke="#f6f6f6" stroke-width="1"/>
<line x1="466.1" y1="351.4" x2="466.1" y2="416.7" stroke="#f6f6f6" stroke-width="1"/>
<line x1="480.4" y1="351.4" x2="480.4" y2="416.7" stroke="#f6f6f6" stroke-width="1"/>
<line x1="494.7" y1="351.4" x2="494.7" y2="416.7" stroke="#f6f6f6" stroke-width="1"/>
<line x1="509.0" y1="351.4" x2="509.0" y2="416.7" stroke="#f6f6f6" stroke-width="1"/>
<line x1="365.8" y1="410.4" x2="509.1" y2="410.4" stroke="#f8f8f8" stroke-width="1"/>
<line x1="365.8" y1="404.1" x2="509.1" y2="404.1" stroke="#f8f8f8" stroke-width="1"/>
<line x1="365.8" y1="397.8" x2="509.1" y2="397.8" stroke="#f8f8f8" stroke-width="1"/>
<line x1="365.8" y1="391.5" x2="509.1" y2="391.5" stroke="#f8f8f8" stroke-width="1"/>
<line x1="365.8" y1="385.2" x2="509.1" y2="385.2" stroke="#f8f8f8" stroke-width="1"/>
<line x1="365.8" y1="378.9" x2="509.1" y2="378.9" stroke="#f8f8f8" stroke-width="1"/>
<line x1="365.8" y1="372.6" x2="509.1" y2="372.6" stroke="#f8f8f8" stroke-width="1"/>
<line x1="365.8" y1="366.3" x2="509.1" y2="366.3" stroke="#f8f8f8" stroke-width="1"/>
<line x1="365.8" y1="360.0" x2="509.1" y2="360.0" stroke="#f8f8f8" stroke-width="1"/>
<line x1="365.8" y1="353.7" x2="509.1" y2="353.7" stroke="#f8f8f8" stroke-width="1"/>
<line x1="365.8" y1="416.7" x2="509.1" y2="416.7" stroke="#e2e2e2" stroke-width="0.8" stroke-dasharray="1 1.2"/>
<line x1="365.8" y1="370.4" x2="516.5" y2="370.4" stroke="#b0b0b0" stroke-width="1.1"/>
<rect x="365.8" y="420.2" width="143.3" height="21.400000000000034" fill="#fff"/>
<rect x="366.40" y="420.2" width="2.40" height="21.400000000000034" fill="rgb(140,140,140)"/>
<rect x="368.80" y="420.2" width="1.50" height="21.400000000000034" fill="rgb(192,192,192)"/>
<rect x="370.30" y="420.2" width="2.40" height="21.400000000000034" fill="rgb(140,140,140)"/>
<rect x="372.70" y="420.2" width="3.80" height="21.400000000000034" fill="rgb(98,98,98)"/>
<rect x="376.50" y="420.2" width="1.90" height="21.400000000000034" fill="rgb(192,192,192)"/>
<rect x="378.40" y="420.2" width="1.50" height="21.400000000000034" fill="rgb(140,140,140)"/>
<rect x="379.90" y="420.2" width="1.90" height="21.400000000000034" fill="rgb(255,255,255)"/>
<rect x="381.80" y="420.2" width="5.30" height="21.400000000000034" fill="rgb(140,140,140)"/>
<rect x="387.10" y="420.2" width="0.90" height="21.400000000000034" fill="rgb(48,48,48)"/>
<rect x="388.00" y="420.2" width="2.90" height="21.400000000000034" fill="rgb(192,192,192)"/>
<rect x="390.90" y="420.2" width="1.90" height="21.400000000000034" fill="rgb(140,140,140)"/>
<rect x="392.80" y="420.2" width="2.00" height="21.400000000000034" fill="rgb(255,255,255)"/>
<rect x="394.80" y="420.2" width="2.40" height="21.400000000000034" fill="rgb(192,192,192)"/>
<rect x="397.20" y="420.2" width="1.90" height="21.400000000000034" fill="rgb(98,98,98)"/>
<rect x="399.10" y="420.2" width="1.90" height="21.400000000000034" fill="rgb(48,48,48)"/>
<rect x="401.00" y="420.2" width="1.50" height="21.400000000000034" fill="rgb(255,255,255)"/>
<rect x="402.50" y="420.2" width="1.90" height="21.400000000000034" fill="rgb(98,98,98)"/>
<rect x="404.40" y="420.2" width="1.40" height="21.400000000000034" fill="rgb(48,48,48)"/>
<rect x="405.80" y="420.2" width="1.50" height="21.400000000000034" fill="rgb(192,192,192)"/>
<rect x="407.30" y="420.2" width="1.90" height="21.400000000000034" fill="rgb(98,98,98)"/>
<rect x="409.20" y="420.2" width="1.90" height="21.400000000000034" fill="rgb(255,255,255)"/>
<rect x="411.10" y="420.2" width="4.70" height="21.400000000000034" fill="rgb(140,140,140)"/>
<rect x="415.80" y="420.2" width="1.50" height="21.400000000000034" fill="rgb(255,255,255)"/>
<rect x="417.30" y="420.2" width="1.40" height="21.400000000000034" fill="rgb(140,140,140)"/>
<rect x="418.70" y="420.2" width="2.00" height="21.400000000000034" fill="rgb(192,192,192)"/>
<rect x="420.70" y="420.2" width="3.30" height="21.400000000000034" fill="rgb(255,255,255)"/>
<rect x="424.00" y="420.2" width="1.90" height="21.400000000000034" fill="rgb(48,48,48)"/>
<rect x="425.90" y="420.2" width="2.40" height="21.400000000000034" fill="rgb(140,140,140)"/>
<rect x="428.30" y="420.2" width="2.50" height="21.400000000000034" fill="rgb(98,98,98)"/>
<rect x="430.80" y="420.2" width="1.90" height="21.400000000000034" fill="rgb(255,255,255)"/>
<rect x="432.70" y="420.2" width="2.40" height="21.400000000000034" fill="rgb(48,48,48)"/>
<rect x="435.10" y="420.2" width="1.90" height="21.400000000000034" fill="rgb(255,255,255)"/>
<rect x="437.00" y="420.2" width="1.90" height="21.400000000000034" fill="rgb(140,140,140)"/>
<rect x="438.90" y="420.2" width="1.90" height="21.400000000000034" fill="rgb(192,192,192)"/>
<rect x="440.80" y="420.2" width="2.00" height="21.400000000000034" fill="rgb(48,48,48)"/>
<rect x="442.80" y="420.2" width="1.40" height="21.400000000000034" fill="rgb(192,192,192)"/>
<rect x="444.20" y="420.2" width="1.50" height="21.400000000000034" fill="rgb(140,140,140)"/>
<rect x="445.70" y="420.2" width="1.90" height="21.400000000000034" fill="rgb(255,255,255)"/>
<rect x="447.60" y="420.2" width="1.40" height="21.400000000000034" fill="rgb(48,48,48)"/>
<rect x="449.00" y="420.2" width="1.50" height="21.400000000000034" fill="rgb(192,192,192)"/>
<rect x="450.50" y="420.2" width="1.90" height="21.400000000000034" fill="rgb(140,140,140)"/>
<rect x="452.40" y="420.2" width="1.90" height="21.400000000000034" fill="rgb(98,98,98)"/>
<rect x="454.30" y="420.2" width="1.90" height="21.400000000000034" fill="rgb(192,192,192)"/>
<rect x="456.20" y="420.2" width="2.90" height="21.400000000000034" fill="rgb(140,140,140)"/>
<rect x="459.10" y="420.2" width="1.50" height="21.400000000000034" fill="rgb(255,255,255)"/>
<rect x="460.60" y="420.2" width="1.40" height="21.400000000000034" fill="rgb(140,140,140)"/>
<rect x="462.00" y="420.2" width="1.50" height="21.400000000000034" fill="rgb(255,255,255)"/>
<rect x="463.50" y="420.2" width="1.50" height="21.400000000000034" fill="rgb(98,98,98)"/>
<rect x="465.00" y="420.2" width="1.50" height="21.400000000000034" fill="rgb(140,140,140)"/>
<rect x="466.50" y="420.2" width="1.50" height="21.400000000000034" fill="rgb(98,98,98)"/>
<rect x="468.00" y="420.2" width="1.50" height="21.400000000000034" fill="rgb(255,255,255)"/>
<rect x="469.50" y="420.2" width="2.50" height="21.400000000000034" fill="rgb(140,140,140)"/>
<rect x="472.00" y="420.2" width="1.50" height="21.400000000000034" fill="rgb(192,192,192)"/>
<rect x="473.50" y="420.2" width="2.50" height="21.400000000000034" fill="rgb(140,140,140)"/>
<rect x="476.00" y="420.2" width="3.00" height="21.400000000000034" fill="rgb(98,98,98)"/>
<rect x="479.00" y="420.2" width="2.00" height="21.400000000000034" fill="rgb(255,255,255)"/>
<rect x="481.00" y="420.2" width="3.00" height="21.400000000000034" fill="rgb(140,140,140)"/>
<rect x="484.00" y="420.2" width="2.00" height="21.400000000000034" fill="rgb(192,192,192)"/>
<rect x="486.00" y="420.2" width="2.00" height="21.400000000000034" fill="rgb(140,140,140)"/>
<rect x="488.00" y="420.2" width="2.00" height="21.400000000000034" fill="rgb(48,48,48)"/>
<rect x="490.00" y="420.2" width="1.50" height="21.400000000000034" fill="rgb(255,255,255)"/>
<rect x="491.50" y="420.2" width="2.50" height="21.400000000000034" fill="rgb(140,140,140)"/>
<rect x="494.00" y="420.2" width="1.50" height="21.400000000000034" fill="rgb(48,48,48)"/>
<rect x="495.50" y="420.2" width="2.00" height="21.400000000000034" fill="rgb(140,140,140)"/>
<rect x="497.50" y="420.2" width="1.50" height="21.400000000000034" fill="rgb(48,48,48)"/>
<rect x="499.00" y="420.2" width="1.00" height="21.400000000000034" fill="rgb(255,255,255)"/>
<rect x="500.00" y="420.2" width="1.00" height="21.400000000000034" fill="rgb(192,192,192)"/>
<rect x="501.00" y="420.2" width="3.00" height="21.400000000000034" fill="rgb(255,255,255)"/>
<rect x="504.00" y="420.2" width="5.10" height="21.400000000000034" fill="rgb(48,48,48)"/>
<rect x="365.8" y="441.6" width="143.3" height="6.7999999999999545" fill="url(#g6)"/>
<polyline points="366.0,367.6 366.8,358.7 370.1,357.1 376.5,354.7 383.0,357.9 387.8,359.5 394.3,362.4 402.4,366.0 410.5,370.0 418.5,376.5 426.6,383.0 434.7,387.8 446.1,393.5 454.2,398.3 462.2,403.2 470.3,408.8 478.4,412.9 487.3,415.3 492.9,414.5 496.2,412.0 499.4,408.8 502.6,405.6 505.0,400.7 506.7,393.5 507.8,383.8 508.8,372.5 509.1,369.2" fill="none" stroke="#9cdb5e" stroke-width="1.6" stroke-linejoin="round"/>
<rect x="365.8" y="351.4" width="150.7" height="97.0" fill="none" stroke="#3a3a3a" stroke-width="1.25"/>
<text transform="translate(508.80 363.60) scale(1 1.13)" font-size="8.3" text-anchor="end" fill="#000">NES= -1.755</text>
<text transform="translate(508.80 380.70) scale(1 1.13)" font-size="8.3" text-anchor="end" fill="#000">q=0.000</text>
<text transform="translate(369.00 462.60) scale(1 1.13)" font-size="8.3" fill="#000">Double mutant</text>
<text transform="translate(493.30 462.60) scale(1 1.13)" font-size="8.3" fill="#000">WT</text>
</svg>
</body></html>
